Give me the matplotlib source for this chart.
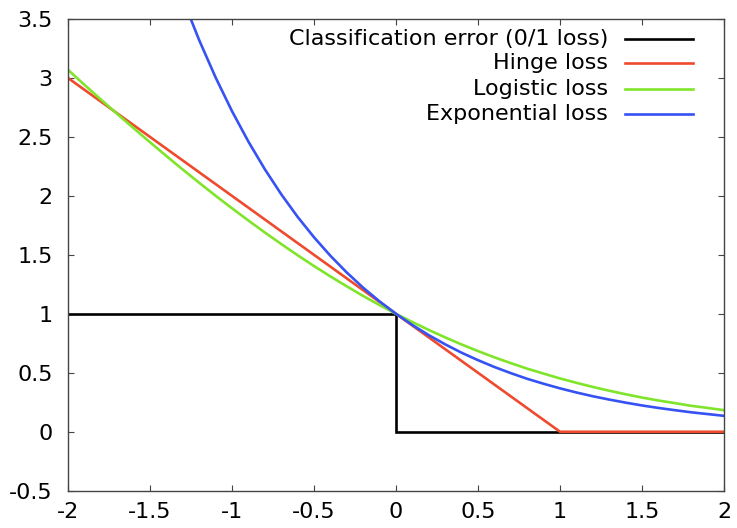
import matplotlib
matplotlib.use("Agg")
import matplotlib.pyplot as plt

z = [-2.0, -1.9, -1.8, -1.7, -1.6, -1.5, -1.4, -1.3, -1.2, -1.1, -1.0,
     -0.9, -0.8, -0.7, -0.6, -0.5, -0.4, -0.3, -0.2, -0.1, 0.0,
     0.1, 0.2, 0.3, 0.4, 0.5, 0.6, 0.7, 0.8, 0.9, 1.0,
     1.1, 1.2, 1.3, 1.4, 1.5, 1.6, 1.7, 1.8, 1.9, 2.0]

logistic = [3.069, 2.942, 2.818, 2.695, 2.574, 2.455, 2.338, 2.223, 2.111, 2.001, 1.895,
            1.791, 1.690, 1.592, 1.497, 1.405, 1.317, 1.233, 1.151, 1.074, 1.000,
            0.930, 0.863, 0.800, 0.740, 0.684, 0.631, 0.582, 0.535, 0.493, 0.452,
            0.415, 0.380, 0.348, 0.318, 0.290, 0.265, 0.243, 0.220, 0.202, 0.183]

exponential = [7.389, 6.686, 6.050, 5.474, 4.953, 4.482, 4.055, 3.669, 3.320, 3.004, 2.718,
               2.460, 2.226, 2.014, 1.822, 1.649, 1.492, 1.350, 1.221, 1.105, 1.000,
               0.905, 0.819, 0.741, 0.670, 0.607, 0.549, 0.497, 0.449, 0.407, 0.368,
               0.333, 0.301, 0.273, 0.247, 0.223, 0.202, 0.183, 0.165, 0.150, 0.135]

hinge_z = [-2.0, 1.0, 2.0]
hinge = [3.0, 0.0, 0.0]

zero_one_z = [-2.0, 0.0, 0.0, 2.0]
zero_one = [1.0, 1.0, 0.0, 0.0]

labels = ["Classification error (0/1 loss)", "Hinge loss", "Logistic loss", "Exponential loss"]
colors = ["#000000", "#EE4B2E", "#80E52A", "#3652F2"]

xticks = [-2, -1.5, -1, -0.5, 0, 0.5, 1, 1.5, 2]
xticklabels = ["-2", "-1.5", "-1", "-0.5", "0", "0.5", "1", "1.5", "2"]
yticks = [-0.5, 0, 0.5, 1, 1.5, 2, 2.5, 3, 3.5]
yticklabels = ["-0.5", "0", "0.5", "1", "1.5", "2", "2.5", "3", "3.5"]

fig = plt.figure(figsize=(7.37, 5.28), dpi=100)
ax = fig.add_axes([0.0923, 0.0706, 0.8901, 0.8934])

lw = 1.9
series = [(zero_one_z, zero_one), (hinge_z, hinge), (z, logistic), (z, exponential)]
for (xs, ys), c in zip(series, colors):
    ax.plot(xs, ys, color=c, lw=lw, solid_joinstyle="miter", clip_on=True)

ax.set_xlim(-2, 2)
ax.set_ylim(-0.5, 3.5)
ax.set_xticks(xticks)
ax.set_xticklabels(xticklabels)
ax.set_yticks(yticks)
ax.set_yticklabels(yticklabels)
ax.tick_params(direction="in", length=4.5, width=0.8, color="#444444",
               top=True, right=True, labelsize=16)
ax.tick_params(axis="x", pad=8)
ax.tick_params(axis="y", pad=11)
for s in ax.spines.values():
    s.set_linewidth(1.0)
    s.set_color("#444444")

# Gnuplot-style legend: right-aligned text, line sample to the right
row_y = [0.958, 0.907, 0.852, 0.799]
for lab, c, yy in zip(labels, colors, row_y):
    ax.text(0.823, yy, lab, transform=ax.transAxes, ha="right", va="center", fontsize=16)
    ax.plot([0.849, 0.953], [yy, yy], transform=ax.transAxes, color=c, lw=lw,
            clip_on=False)

fig.savefig("out.png", dpi=100)
